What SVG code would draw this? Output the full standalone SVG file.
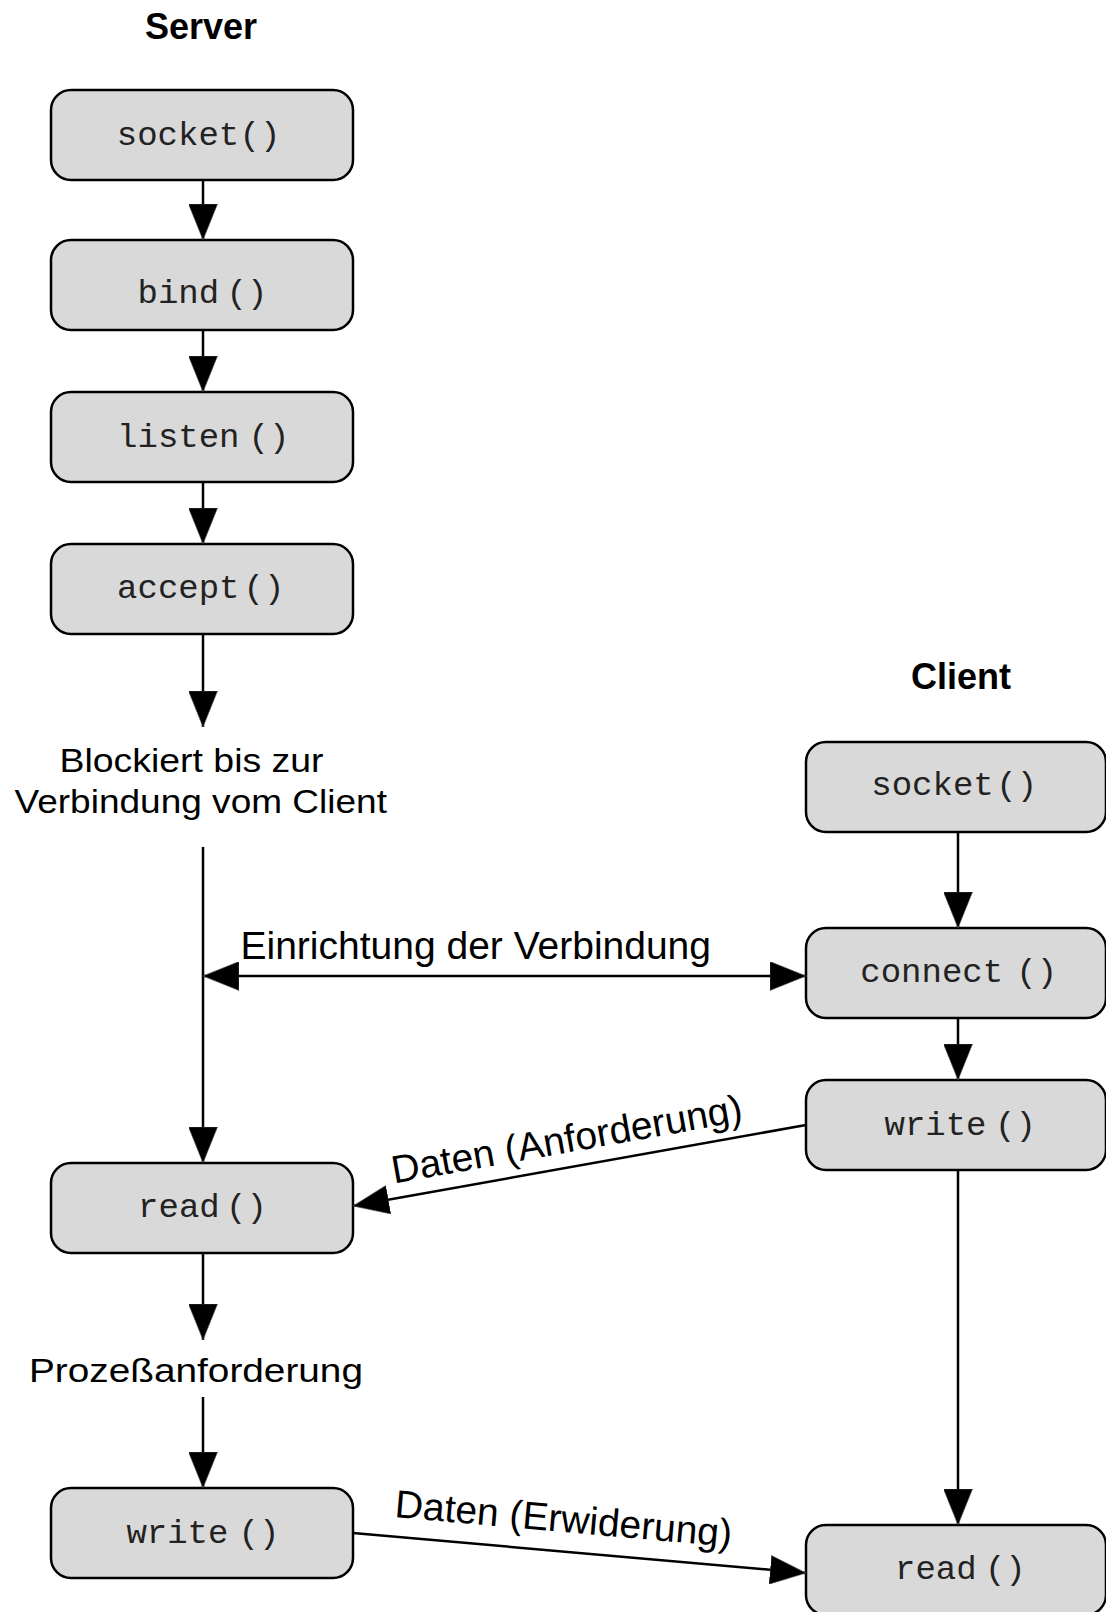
<svg xmlns="http://www.w3.org/2000/svg" width="1106" height="1612" viewBox="0 0 1106 1612">
<style>
.box{fill:#d9d9d9;stroke:#000;stroke-width:2.5}
.mono{font-family:"Liberation Mono","Courier New",monospace;font-size:34px;fill:#222;text-anchor:middle}
.title{font-family:"Liberation Sans",Arial,sans-serif;font-size:36px;font-weight:bold;fill:#000;text-anchor:middle}
.lbl{font-family:"Liberation Sans",Arial,sans-serif;font-size:33px;fill:#000}
.lbl2{font-family:"Liberation Sans",Arial,sans-serif;font-size:39px;fill:#000}
.con{fill:none;stroke:#000;stroke-width:2.5}
.arr{marker-end:url(#ah)}
</style>
<defs>
<marker id="ah" markerUnits="userSpaceOnUse" viewBox="0 0 36 29" refX="36" refY="14.5" markerWidth="36" markerHeight="29" orient="auto-start-reverse">
<path d="M0,0 L36,14.5 L0,29 z" fill="#000" stroke="#555" stroke-width="0.6"/>
</marker>
</defs>

<text class="title" x="201" y="39">Server</text>
<text class="title" x="961" y="689">Client</text>

<g id="s_socket"><rect class="box" x="51" y="90" width="302" height="90" rx="20"/><text class="mono" x="178" y="145">socket</text><text class="mono" x="260" y="145">()</text></g>
<g id="s_bind"><rect class="box" x="51" y="240" width="302" height="90" rx="20"/><text class="mono" x="178.3" y="303">bind</text><text class="mono" x="247" y="303">()</text></g>
<g id="s_listen"><rect class="box" x="51" y="392" width="302" height="90" rx="20"/><text class="mono" x="178.3" y="447">listen</text><text class="mono" x="269" y="447">()</text></g>
<g id="s_accept"><rect class="box" x="51" y="544" width="302" height="90" rx="20"/><text class="mono" x="178.3" y="598">accept</text><text class="mono" x="264" y="598">()</text></g>
<g id="s_block"><text class="lbl" x="59.5" y="771.7" textLength="264" lengthAdjust="spacingAndGlyphs">Blockiert bis zur</text><text class="lbl" x="14.5" y="813.3" textLength="372.5" lengthAdjust="spacingAndGlyphs">Verbindung vom Client</text></g>
<g id="s_read"><rect class="box" x="51" y="1163" width="302" height="90" rx="20"/><text class="mono" x="178.9" y="1216.7">read</text><text class="mono" x="246.5" y="1216.7">()</text></g>
<g id="s_proc"><text class="lbl" x="29" y="1382.3" textLength="334" lengthAdjust="spacingAndGlyphs">Prozeßanforderung</text></g>
<g id="s_write"><rect class="box" x="51" y="1488" width="302" height="90" rx="20"/><text class="mono" x="177.4" y="1543">write</text><text class="mono" x="259" y="1543">()</text></g>

<g id="c_socket"><rect class="box" x="806" y="742" width="300" height="90" rx="20"/><text class="mono" x="932.5" y="795">socket</text><text class="mono" x="1016.7" y="795">()</text></g>
<g id="c_connect"><rect class="box" x="806" y="928" width="300" height="90" rx="20"/><text class="mono" x="931.7" y="981.7">connect</text><text class="mono" x="1036.7" y="981.7">()</text></g>
<g id="c_write"><rect class="box" x="806" y="1080" width="300" height="90" rx="20"/><text class="mono" x="935.5" y="1135">write</text><text class="mono" x="1015.5" y="1135">()</text></g>
<g id="c_read"><rect class="box" x="806" y="1525" width="300" height="90" rx="20"/><text class="mono" x="935.8" y="1579.3">read</text><text class="mono" x="1005.3" y="1579.3">()</text></g>

<g id="connectors">
<line class="con arr" x1="203" y1="180" x2="203" y2="240"/>
<line class="con arr" x1="203" y1="330" x2="203" y2="392"/>
<line class="con arr" x1="203" y1="482" x2="203" y2="544"/>
<line class="con arr" x1="203" y1="634" x2="203" y2="727"/>
<line class="con arr" x1="203" y1="847" x2="203" y2="1163"/>
<line class="con arr" x1="203" y1="1253" x2="203" y2="1340"/>
<line class="con arr" x1="203" y1="1397" x2="203" y2="1488"/>
<line class="con arr" x1="203" y1="976" x2="806" y2="976" marker-start="url(#ah)"/>
<line class="con arr" x1="958" y1="832" x2="958" y2="928"/>
<line class="con arr" x1="958" y1="1018" x2="958" y2="1080"/>
<line class="con arr" x1="958" y1="1170" x2="958" y2="1525"/>
<line class="con arr" x1="806" y1="1125" x2="353" y2="1206"/>
<line class="con arr" x1="353" y1="1533" x2="806" y2="1573"/>
<text class="lbl2" x="240.5" y="959.3">Einrichtung der Verbindung</text>
<text class="lbl2" x="394" y="1183.5" transform="rotate(-10.14 394 1183.5)">Daten (Anforderung)</text>
<text class="lbl2" x="394" y="1517" transform="rotate(5.05 394 1517)">Daten (Erwiderung)</text>
</g>
</svg>
